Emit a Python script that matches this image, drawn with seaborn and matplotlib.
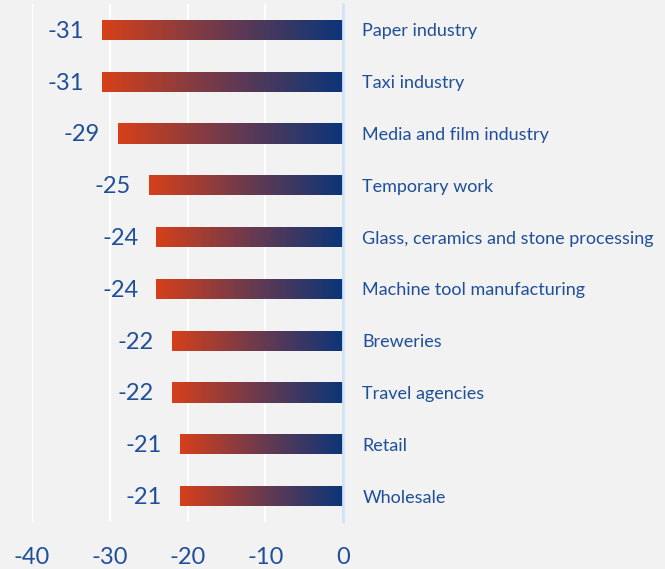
import numpy as np
import matplotlib
matplotlib.use("Agg")
import matplotlib.pyplot as plt
import seaborn as sns
from matplotlib.colors import LinearSegmentedColormap

categories = ["Paper industry", "Taxi industry", "Media and film industry", "Temporary work",
              "Glass, ceramics and stone processing", "Machine tool manufacturing",
              "Breweries", "Travel agencies", "Retail", "Wholesale"]
values = [-31, -31, -29, -25, -24, -24, -22, -22, -21, -21]
xticks = [-40, -30, -20, -10, 0]

bg = "#f2f2f2"
txt = "#1f4f99"
grad = LinearSegmentedColormap.from_list("g", ["#d6401a", "#6b3a4e", "#0a3579"])

sns.set_theme(style="white")
plt.rcParams["font.family"] = ["Lato", "DejaVu Sans"]

fig = plt.figure(figsize=(6.65, 5.69), dpi=100, facecolor=bg)
ax = fig.add_axes([32/665, 1-522/569, (343-32)/665, (522-4)/569])
ax.set_facecolor(bg)

sns.barplot(x=values, y=categories, orient="h", width=0.39, color="#0a3579", ax=ax)

# gradient fill clipped to each bar
g = np.linspace(0, 1, 256).reshape(1, -1)
for p, v in zip(ax.patches, values):
    x0, y0 = p.get_x(), p.get_y()
    w, h = p.get_width(), p.get_height()
    xl, xr = min(x0, x0 + w), max(x0, x0 + w)
    im = ax.imshow(g, cmap=grad, aspect="auto", extent=[xl, xr, y0 + h, y0], zorder=3)
    im.set_clip_path(p)
    p.set_facecolor("none")
    p.set_edgecolor("none")
    ax.annotate(f"{v}", (xl, y0 + h / 2), xytext=(-13, -1), textcoords="offset points",
                ha="right", va="center", fontsize=17, color=txt)

ax.set_xlim(-40, 0)
ax.set_ylim(9.5, -0.5)

for t in xticks[:-1]:
    ax.axvline(t, color="white", lw=1.5, zorder=0)
ax.axvline(0, color="#cfe2fb", lw=2, zorder=4, clip_on=False)

for s in ax.spines.values():
    s.set_visible(False)

ax.set_xticks(xticks)
ax.set_xticklabels([str(t) for t in xticks])
ax.tick_params(axis="x", length=0, pad=18, labelsize=17, labelcolor=txt)
ax.yaxis.tick_right()
ax.tick_params(axis="y", length=0, pad=14, labelsize=13, labelcolor=txt)
for lab in ax.get_yticklabels():
    lab.set_horizontalalignment("left")
ax.set_xlabel("")
ax.set_ylabel("")

fig.savefig("out.png", dpi=100, facecolor=bg)
